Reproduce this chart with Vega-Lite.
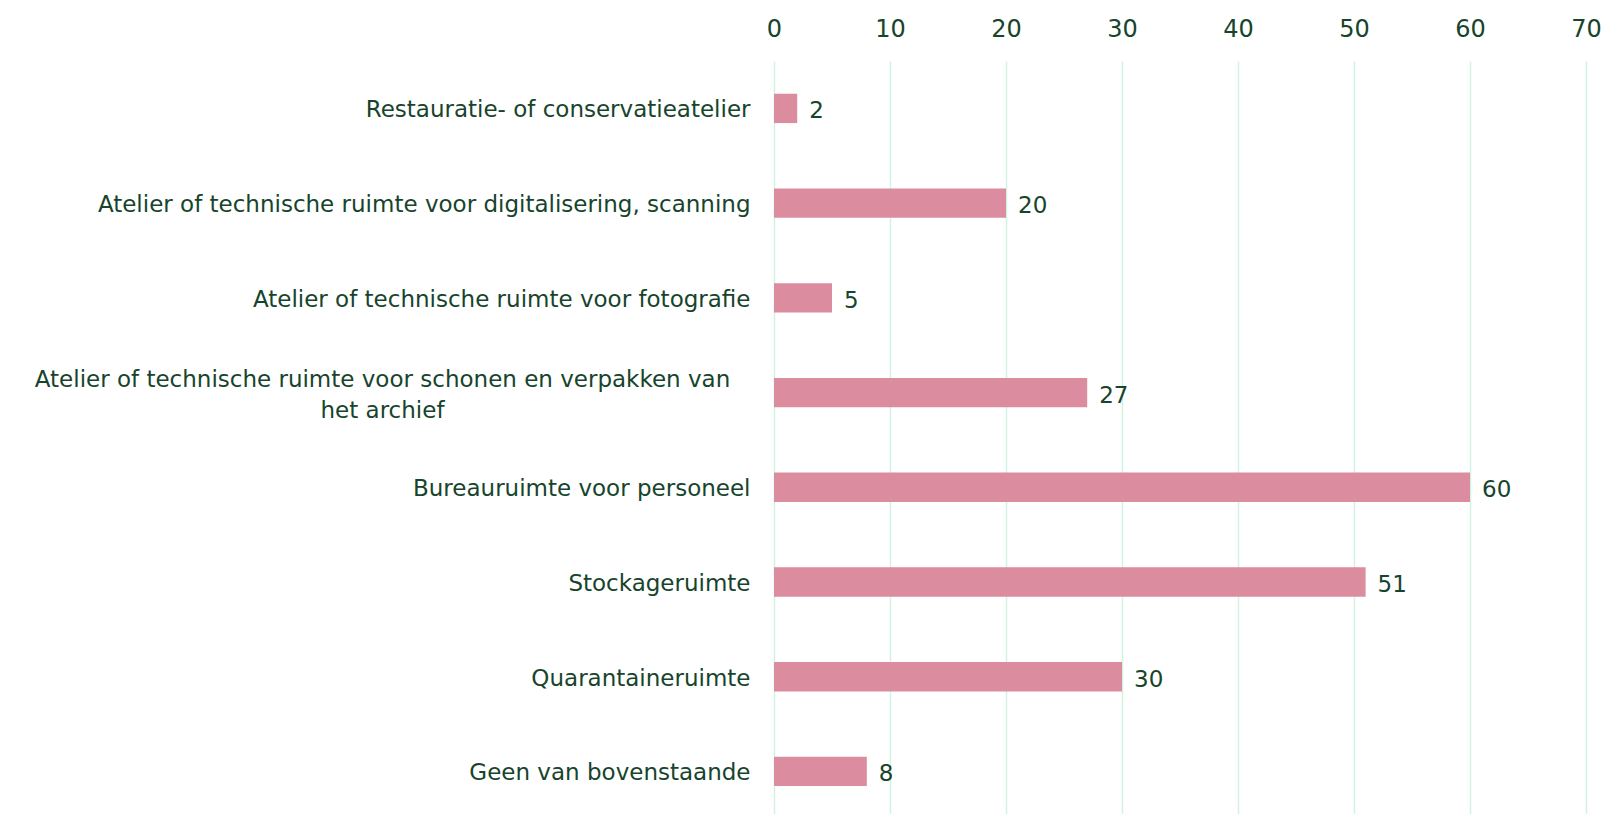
{
  "$schema": "https://vega.github.io/schema/vega-lite/v6.json",
  "width": 812,
  "height": 753,
  "autosize": {"type": "none"},
  "padding": {"left": 774, "top": 61, "right": 19, "bottom": 0},
  "background": "white",
  "config": {"view": {"stroke": null}},
  "data": {"values": [
    {"categorie": "Restauratie- of conservatieatelier", "aantal": 2},
    {"categorie": "Atelier of technische ruimte voor digitalisering, scanning", "aantal": 20},
    {"categorie": "Atelier of technische ruimte voor fotografie", "aantal": 5},
    {"categorie": "Atelier of technische ruimte voor schonen en verpakken van het archief", "aantal": 27},
    {"categorie": "Bureauruimte voor personeel", "aantal": 60},
    {"categorie": "Stockageruimte", "aantal": 51},
    {"categorie": "Quarantaineruimte", "aantal": 30},
    {"categorie": "Geen van bovenstaande", "aantal": 8}
  ]},
  "encoding": {
    "y": {
      "field": "categorie", "type": "nominal", "sort": null,
      "scale": {"paddingInner": 0.69, "paddingOuter": 0.32, "align": 0.54},
      "axis": {
        "title": null, "domain": false, "ticks": false, "grid": false,
        "labelFont": "DejaVu Sans", "labelFontSize": 23, "labelColor": "#17442c",
        "labelLimit": 0, "labelLineHeight": 31, "labelBaseline": "middle",
        "labelOffset": {"condition": {"test": "datum.value == 'Atelier of technische ruimte voor schonen en verpakken van het archief'", "value": -13}, "value": 2},
        "labelAlign": {"condition": {"test": "datum.value == 'Atelier of technische ruimte voor schonen en verpakken van het archief'", "value": "center"}, "value": "right"},
        "labelPadding": {"condition": {"test": "datum.value == 'Atelier of technische ruimte voor schonen en verpakken van het archief'", "value": 392}, "value": 24},
        "labelExpr": "datum.value == 'Atelier of technische ruimte voor schonen en verpakken van het archief' ? ['Atelier of technische ruimte voor schonen en verpakken van', 'het archief'] : datum.label"
      }
    },
    "x": {
      "field": "aantal", "type": "quantitative",
      "scale": {"domain": [0, 70], "nice": false},
      "axis": {
        "orient": "top", "title": null, "domain": false, "ticks": false,
        "values": [0, 10, 20, 30, 40, 50, 60, 70],
        "grid": true, "gridColor": "#d2f2e2", "gridWidth": 1.5,
        "labelFont": "DejaVu Sans", "labelFontSize": 24, "labelColor": "#17442c",
        "labelPadding": 20, "labelFlush": false
      }
    }
  },
  "layer": [
    {"mark": {"type": "bar", "color": "#db8c9e"}},
    {
      "mark": {"type": "text", "align": "left", "baseline": "middle", "dx": 12, "dy": 3,
               "font": "DejaVu Sans", "fontSize": 23, "color": "#17442c"},
      "encoding": {"text": {"field": "aantal", "type": "quantitative"}}
    }
  ]
}
